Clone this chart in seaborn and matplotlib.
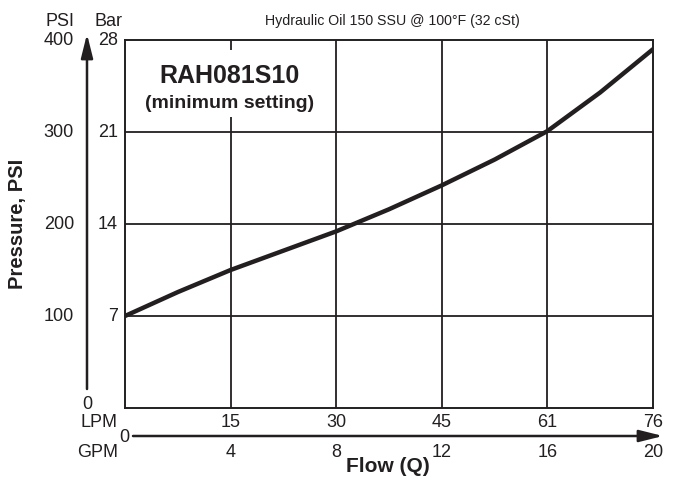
import matplotlib
matplotlib.use("Agg")
import matplotlib.pyplot as plt
import seaborn as sns
import pandas as pd

# curve
gpm = [0, 2, 4, 6, 8, 10, 12, 14, 16, 18, 20]
psi = [100, 126, 150, 171, 192, 216, 242, 270, 301, 343, 390]

psi_ticks = [100, 200, 300, 400]
bar_labels = ["7", "14", "21", "28"]
gpm_ticks = [4, 8, 12, 16, 20]
lpm_labels = ["15", "30", "45", "61", "76"]

sns.set_style("white")
plt.rcParams["font.family"] = ["Liberation Sans", "DejaVu Sans"]

W, H = 674, 481
ink = "#231f20"

fig = plt.figure(figsize=(W / 100, H / 100), dpi=100)
ax = fig.add_axes([125 / W, (H - 409) / H, 528 / W, 368 / H])

df = pd.DataFrame({"gpm": gpm, "psi": psi})
sns.lineplot(data=df, x="gpm", y="psi", ax=ax, color=ink, lw=3.2, zorder=4)

ax.set_xlim(0, 20)
ax.set_ylim(0, 400)
ax.set_xticks(gpm_ticks[:-1])
ax.set_yticks(psi_ticks[:-1])
ax.tick_params(length=0, labelbottom=False, labelleft=False)
ax.grid(True, color=ink, lw=1.3)
ax.set_xlabel("")
ax.set_ylabel("")
for s in ax.spines.values():
    s.set_color(ink)
    s.set_linewidth(1.4)

fs = 13

# left labels
ytr = ax.get_yaxis_transform()
for v, b in zip(psi_ticks, bar_labels):
    ax.annotate(str(v), xy=(0, v), xycoords=ytr, xytext=(-51, 0), textcoords="offset pixels",
                ha="right", va="center", fontsize=fs, color=ink)
    ax.annotate(b, xy=(0, v), xycoords=ytr, xytext=(-7, 0), textcoords="offset pixels",
                ha="right", va="center", fontsize=fs, color=ink)
fig.text(87 / W, 1 - 405 / H, "0", ha="center", va="center", fontsize=fs, color=ink)
fig.text(60 / W, 1 - 21 / H, "PSI", ha="center", va="center", fontsize=fs, color=ink)
fig.text(109 / W, 1 - 21 / H, "Bar", ha="center", va="center", fontsize=fs, color=ink)
fig.text(392 / W, 1 - 21 / H, "Hydraulic Oil 150 SSU @ 100°F (32 cSt)",
         ha="center", va="center", fontsize=10.2, color=ink)
fig.text(18 / W, 1 - 224 / H, "Pressure, PSI", rotation=90, ha="center", va="center",
         fontsize=14.5, fontweight="bold", color=ink)

# bottom labels
xtr = ax.get_xaxis_transform()
for g, l in zip(gpm_ticks, lpm_labels):
    ax.annotate(l, xy=(g, 0), xycoords=xtr, xytext=(0, -14), textcoords="offset pixels",
                ha="center", va="center", fontsize=fs, color=ink)
    ax.annotate(str(g), xy=(g, 0), xycoords=xtr, xytext=(0, -44), textcoords="offset pixels",
                ha="center", va="center", fontsize=fs, color=ink)
fig.text(118 / W, 1 - 423 / H, "LPM", ha="right", va="center", fontsize=fs, color=ink)
fig.text(118 / W, 1 - 453 / H, "GPM", ha="right", va="center", fontsize=fs, color=ink)
fig.text(124 / W, 1 - 438 / H, "0", ha="center", va="center", fontsize=fs, color=ink)
fig.text(388 / W, 1 - 467 / H, "Flow (Q)", ha="center", va="center",
         fontsize=15, fontweight="bold", color=ink)

# axis arrows
arrow = dict(arrowstyle="-|>,head_length=1.2,head_width=0.3", mutation_scale=12,
             lw=1.8, color=ink, shrinkA=0, shrinkB=0)
ax.annotate("", xy=(87, H - 35), xytext=(87, H - 390), xycoords="figure pixels",
            textcoords="figure pixels", arrowprops=arrow, annotation_clip=False)
ax.annotate("", xy=(663, H - 437), xytext=(133, H - 437), xycoords="figure pixels",
            textcoords="figure pixels", arrowprops=arrow, annotation_clip=False)

# model box
ax.text(0.198, 0.905, "RAH081S10", transform=ax.transAxes, ha="center", va="center",
        fontsize=18, fontweight="bold", color=ink, zorder=5,
        bbox=dict(facecolor="white", edgecolor="none", pad=9))
ax.text(0.198, 0.83, "(minimum setting)", transform=ax.transAxes, ha="center", va="center",
        fontsize=14, fontweight="bold", color=ink, zorder=6,
        bbox=dict(facecolor="white", edgecolor="none", pad=4))

fig.savefig("out.png", dpi=100)
